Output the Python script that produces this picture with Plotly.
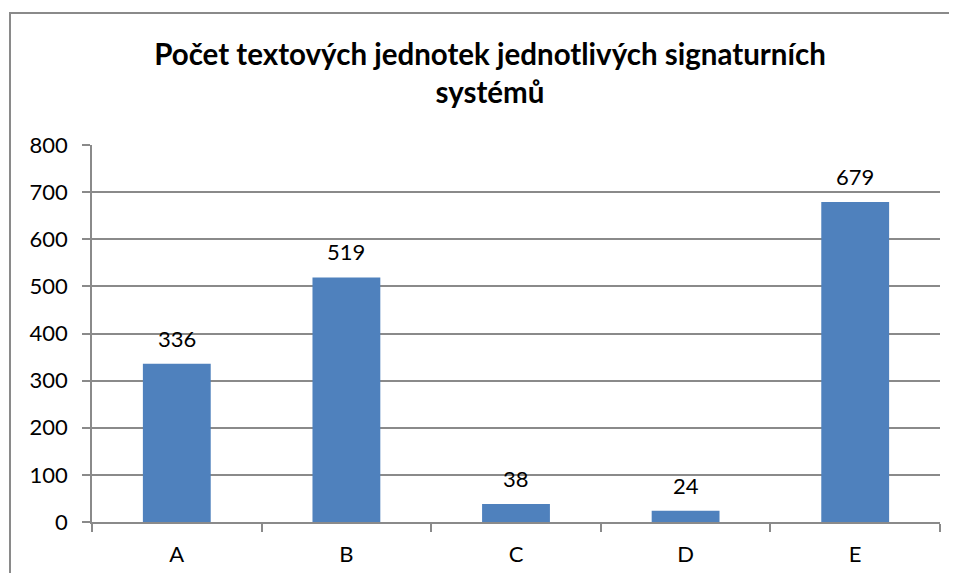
import plotly.graph_objects as go

categories = ["A", "B", "C", "D", "E"]
values = [336, 519, 38, 24, 679]
y_ticks = [0, 100, 200, 300, 400, 500, 600, 700, 800]
title_text = "<b>Počet textových jednotek jednotlivých signaturních<br>systémů</b>"

FONT = "Lato"
GRID = "#8a8a8a"
W, H = 941, 565
L, R, T, B = 84, 9, 137, 51

fig = go.Figure(go.Bar(
    x=categories, y=values,
    marker=dict(color="#4f81bd", line=dict(width=0)),
    width=0.4,
    hoverinfo="x+y",
))

for c, v in zip(categories, values):
    fig.add_annotation(x=c, y=v, text=str(v), showarrow=False,
                       yanchor="bottom", yshift=10,
                       font=dict(family=FONT, size=22, color="#000000"))

pw = W - L - R
ph = H - T - B
bx0 = (2 - L) / pw
bx1 = (W + 30 - L) / pw
by0 = (-B - 20) / ph
by1 = (H - B - 5) / ph
border_path = f"M {bx0},{by0} L {bx0},{by1} L {bx1},{by1}"
fig.update_layout(
    width=W, height=H,
    margin=dict(l=L, r=R, t=T, b=B, autoexpand=False),
    paper_bgcolor="white", plot_bgcolor="white",
    showlegend=False,
    title=dict(text=title_text, x=482 / W, xanchor="center", xref="container",
               y=1 - 57 / H, yanchor="middle", yref="container",
               font=dict(family=FONT, size=29.5, color="#000000")),
    xaxis=dict(
        range=[-0.5, 4.5], showgrid=False,
        showline=True, linecolor=GRID, linewidth=1.5,
        ticks="outside", tickson="boundaries", ticklen=8, tickcolor=GRID, tickwidth=1.5,
        ticklabelstandoff=12,
        tickfont=dict(family=FONT, size=22, color="#000000"),
    ),
    yaxis=dict(
        range=[0, 800], tickvals=y_ticks,
        showgrid=True, gridcolor=GRID, gridwidth=1.5,
        showline=True, linecolor=GRID, linewidth=1.5,
        ticks="outside", ticklen=8, tickcolor=GRID, tickwidth=1.5,
        ticklabelstandoff=10,
        tickfont=dict(family=FONT, size=22, color="#000000"),
        zeroline=False,
    ),
    shapes=[
        dict(type="path", xref="paper", yref="paper", path=border_path,
             line=dict(color="#8a8a8a", width=2), fillcolor="rgba(0,0,0,0)",
             layer="above"),
    ],
)

fig.write_html("out.html")
